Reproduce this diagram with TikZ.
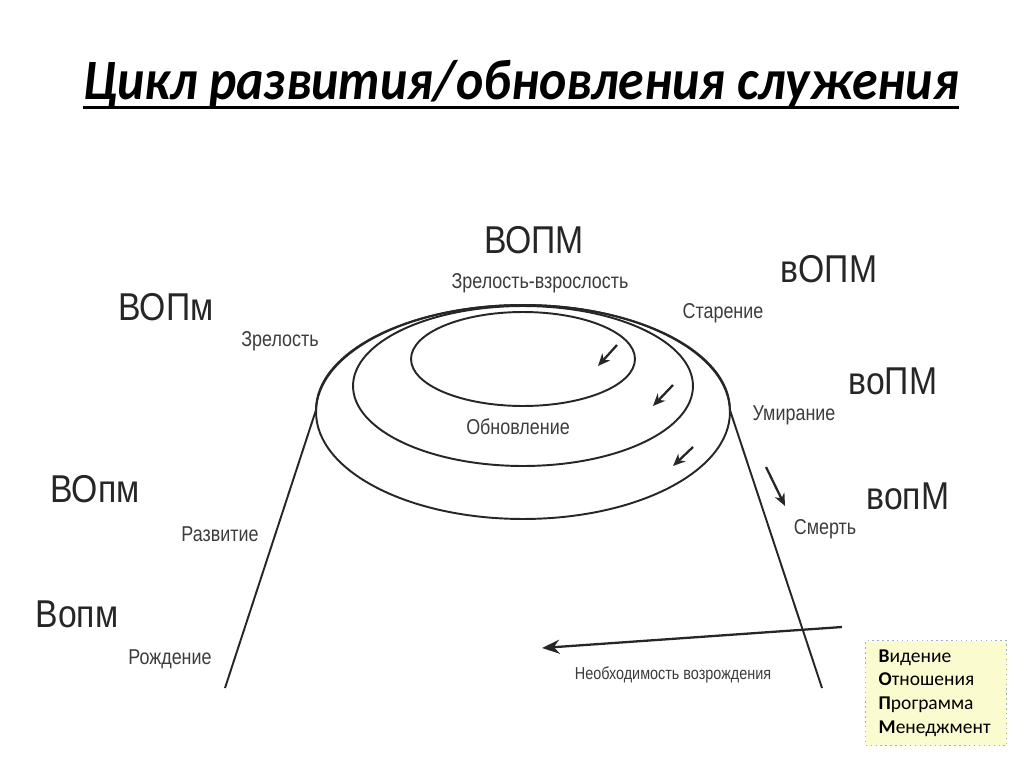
\documentclass[tikz,border=0pt]{standalone}
\usepackage{graphicx}
\usepackage{fontspec}
\setmainfont{Liberation Sans}
\newfontfamily\calfont{Carlito}
\usetikzlibrary{arrows.meta}
\definecolor{legfill}{HTML}{FBFBD0}
\definecolor{legdraw}{HTML}{9AAECB}
\definecolor{ink}{HTML}{262626}
\newcommand\tallA[1]{\scalebox{1}[1.15]{#1}}
\newcommand\tallB[1]{\scalebox{1}[1.2]{#1}}
\tikzset{
  big/.style={text=ink, font=\fontsize{19.2}{20}\selectfont, inner sep=0pt},
  small/.style={text=ink!90, font=\fontsize{10.2}{12}\selectfont, inner sep=0pt},
  tiny/.style={text=ink!90, font=\fontsize{8.2}{10}\selectfont, inner sep=0pt},
  curve/.style={draw=ink, line width=1.1pt},
  flow/.style={draw=ink, line width=1.3pt, -{Stealth[length=7pt,width=6pt]}},
}
\begin{document}
\begin{tikzpicture}[x=0.02cm,y=-0.02cm]
\useasboundingbox (0,0) rectangle (1024,767);
% title
\node[font=\calfont\bfseries\itshape\fontsize{29.5}{30}\selectfont, inner sep=0pt, anchor=base] (title) at (521,100) {\scalebox{1}[1.1]{Цикл развития/обновления служения}};
\draw[line width=2pt] ([yshift=-4.2pt]title.base west) -- ([yshift=-4.2pt]title.base east);
% ellipses
\coordinate (c1) at (523,359);
\coordinate (c2) at (523,386);
\coordinate (c3) at (523,412);
\draw[curve] (c1) ellipse [x radius=2.24cm, y radius=0.94cm];
\draw[curve] (c2) ellipse [x radius=3.4cm, y radius=1.6cm];
\draw[curve] (c3) ellipse [x radius=4.14cm, y radius=2.14cm];
% bell
\coordinate (bl) at (316,410);
\coordinate (bl2) at (225,688);
\coordinate (br2) at (822,688);
\draw[curve] (bl2) -- (bl) arc[start angle=180, end angle=0, x radius=4.14cm, y radius=2.1cm] -- (br2);
% small arrows
\coordinate (a1s) at (617,345); \coordinate (a1e) at (598,366);
\coordinate (a2s) at (673,385); \coordinate (a2e) at (653,406);
\coordinate (a3s) at (693,447); \coordinate (a3e) at (673,466);
\coordinate (a4s) at (766,467); \coordinate (a4e) at (785,506);
\draw[flow] (a1s) -- (a1e);
\draw[flow] (a2s) -- (a2e);
\draw[flow] (a3s) -- (a3e);
\draw[flow] (a4s) -- (a4e);
% bottom arrow
\coordinate (bs) at (842,627);
\coordinate (be) at (542,648);
\draw[draw=ink, line width=1.3pt, -{Stealth[length=10pt,width=8pt]}] (bs) -- (be);
% labels
\node[big] (l1) at (534,240) {\tallA{ВОПМ}};
\node[small] (s1) at (540,283) {\tallB{Зрелость-взрослость}};
\node[big] (l2) at (166,307) {\tallA{ВОПм}};
\node[small] (s2) at (280,341) {\tallB{Зрелость}};
\node[big] (l3) at (829,269) {\tallA{вОПМ}};
\node[small] (s3) at (723,313) {\tallB{Старение}};
\node[big] (l4) at (893,381) {\tallA{воПМ}};
\node[small] (s4) at (794,415) {\tallB{Умирание}};
\node[big] (l5) at (908,496) {\tallA{вопМ}};
\node[small] (s5) at (825,529) {\tallB{Смерть}};
\node[big] (l6) at (95,489) {\tallA{ВОпм}};
\node[small] (s6) at (220,534) {\tallB{Развитие}};
\node[big] (l7) at (77,614) {\tallA{Вопм}};
\node[small] (s7) at (170,659) {\tallB{Рождение}};
\node[small] (s8) at (518,427) {\tallB{Обновление}};
\node[tiny] (s9) at (673,675) {\tallB{Необходимость возрождения}};
% legend
\node[draw=legdraw, dotted, line width=0.8pt, fill=legfill, anchor=north west,
      minimum width=2.76cm, minimum height=2.1cm, inner xsep=0.26cm, inner ysep=0pt,
      text width=2.3cm, align=left,
      font=\calfont\fontsize{11.1}{13.6}\selectfont] (legend) at (865,640)
  {\textbf{В}идение\\\textbf{О}тношения\\\textbf{П}рограмма\\\textbf{М}енеджмент};
\end{tikzpicture}
\end{document}
